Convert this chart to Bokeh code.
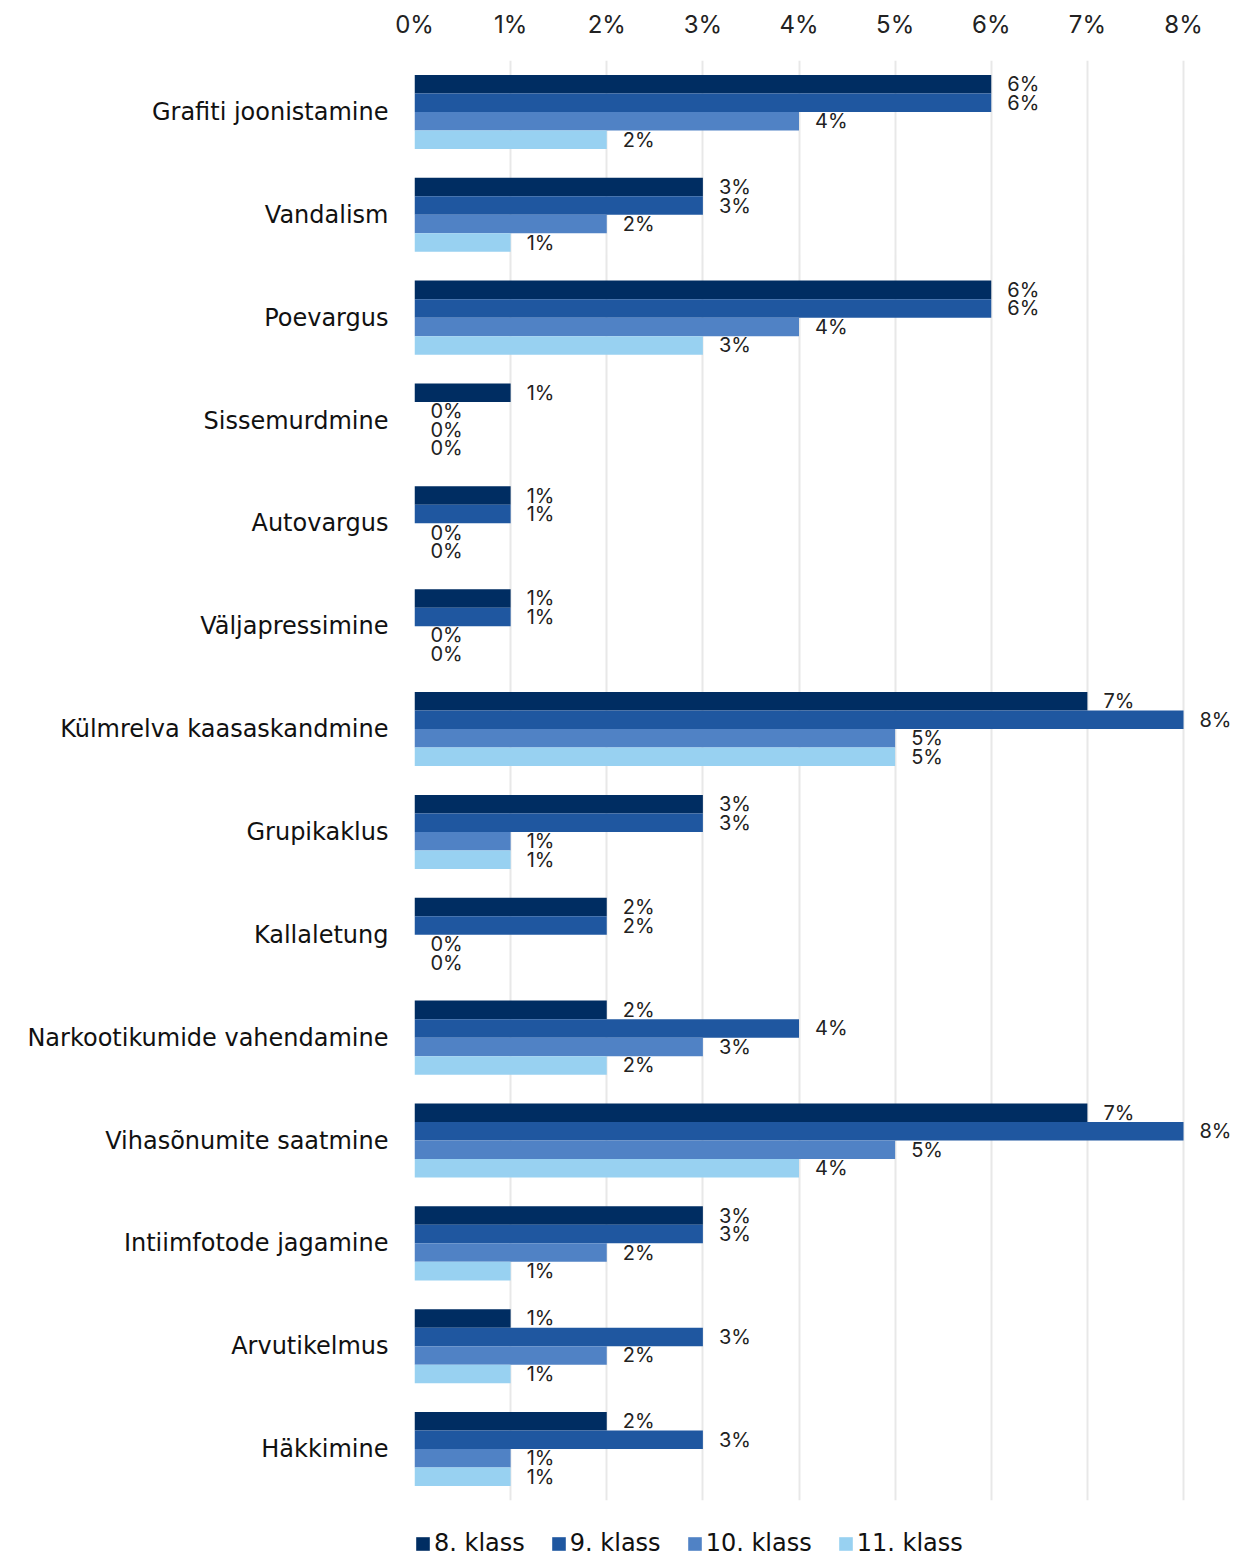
from bokeh.plotting import figure
from bokeh.layouts import column
from bokeh.models import (FactorRange, Range1d, ColumnDataSource, LabelSet, Legend,
                          LegendItem, FixedTicker, NumeralTickFormatter)
from bokeh.core.properties import value
from bokeh.transform import dodge
from bokeh.embed import file_html
from bokeh.resources import INLINE

categories = ["Grafiti joonistamine", "Vandalism", "Poevargus", "Sissemurdmine",
              "Autovargus", "Väljapressimine", "Külmrelva kaasaskandmine",
              "Grupikaklus", "Kallaletung", "Narkootikumide vahendamine",
              "Vihasõnumite saatmine", "Intiimfotode jagamine", "Arvutikelmus",
              "Häkkimine"]
series_names = ["8. klass", "9. klass", "10. klass", "11. klass"]
klass8 = [6, 3, 6, 1, 1, 1, 7, 3, 2, 2, 7, 3, 1, 2]
klass9 = [6, 3, 6, 0, 1, 1, 8, 3, 2, 4, 8, 3, 3, 3]
klass10 = [4, 2, 4, 0, 0, 0, 5, 1, 0, 3, 5, 2, 2, 1]
klass11 = [2, 1, 3, 0, 0, 0, 5, 1, 0, 2, 4, 1, 1, 1]
x_ticks = [0, 1, 2, 3, 4, 5, 6, 7, 8]

series_values = [klass8, klass9, klass10, klass11]
colors = ["#002D62", "#1F57A0", "#5082C5", "#98D1F1"]
offsets = [0.27, 0.09, -0.09, -0.27]
FONT = "Inter"
CAT_FONT = "DejaVu Sans"

W = 1233
p = figure(width=W, height=1509, output_backend="svg", toolbar_location=None,
           y_range=FactorRange(factors=categories[::-1], range_padding=0),
           x_range=Range1d(0, 0.0852), x_axis_location="above",
           min_border_left=414, min_border_right=0, min_border_top=60,
           min_border_bottom=9)
p.outline_line_color = None

legend_fig = figure(width=W, height=48, output_backend="svg", toolbar_location=None,
                    min_border=0, x_axis_type=None, y_axis_type=None,
                    x_range=Range1d(0, 1), y_range=Range1d(0, 1))
legend_fig.outline_line_color = None
legend_fig.grid.grid_line_color = None

items = []
for name, vals, col, off in zip(series_names, series_values, colors, offsets):
    src = ColumnDataSource(dict(cat=categories, v=[x / 100 for x in vals],
                                lab=[f"{x}%" for x in vals]))
    p.hbar(y=dodge("cat", off, range=p.y_range), right="v", left=0, height=0.18,
           source=src, fill_color=col, line_color=None)
    ls = LabelSet(x="v", y=dodge("cat", off, range=p.y_range), text="lab", source=src,
                  x_offset=16, text_baseline="middle", text_font_size="20px",
                  text_font=value(FONT), text_color="#222222")
    p.add_layout(ls)
    # zero-width swatch renderer used only for the legend key
    lr = legend_fig.hbar(y=[-5], right=[0], left=[0], height=0.1, fill_color=col,
                         line_color=None)
    items.append(LegendItem(label=name, renderers=[lr]))

p.xaxis.ticker = FixedTicker(ticks=[t / 100 for t in x_ticks])
p.xaxis.formatter = NumeralTickFormatter(format="0%")
p.xaxis.major_label_text_font_size = "24px"
p.xaxis.major_label_text_font = FONT
p.xaxis.major_label_text_color = "#222222"
p.xaxis.major_tick_out = 0
p.xaxis.major_tick_in = 0
p.xaxis.major_label_standoff = 22
p.xaxis.axis_line_color = None
p.xaxis.major_tick_line_color = None
p.xaxis.minor_tick_line_color = None

p.yaxis.major_label_text_font_size = "24px"
p.yaxis.major_label_text_font = CAT_FONT
p.yaxis.major_label_text_color = "#111111"
p.yaxis.major_tick_out = 0
p.yaxis.major_tick_in = 0
p.yaxis.major_label_standoff = 26
p.yaxis.axis_line_color = None
p.yaxis.major_tick_line_color = None
p.yaxis.minor_tick_line_color = None

p.xgrid.grid_line_color = "#E8E8E8"
p.xgrid.grid_line_width = 2
p.ygrid.grid_line_color = None

legend = Legend(items=items, orientation="horizontal", location="bottom_left",
                glyph_width=17, glyph_height=17, label_text_font_size="24px",
                label_text_font=CAT_FONT, label_text_color="#111111", spacing=25,
                label_standoff=3, padding=0, margin=0, border_line_color=None,
                background_fill_alpha=0)
legend_fig.add_layout(legend, "center")

layout = column(p, legend_fig, spacing=0)
open("out.html", "w").write(file_html(layout, INLINE))
